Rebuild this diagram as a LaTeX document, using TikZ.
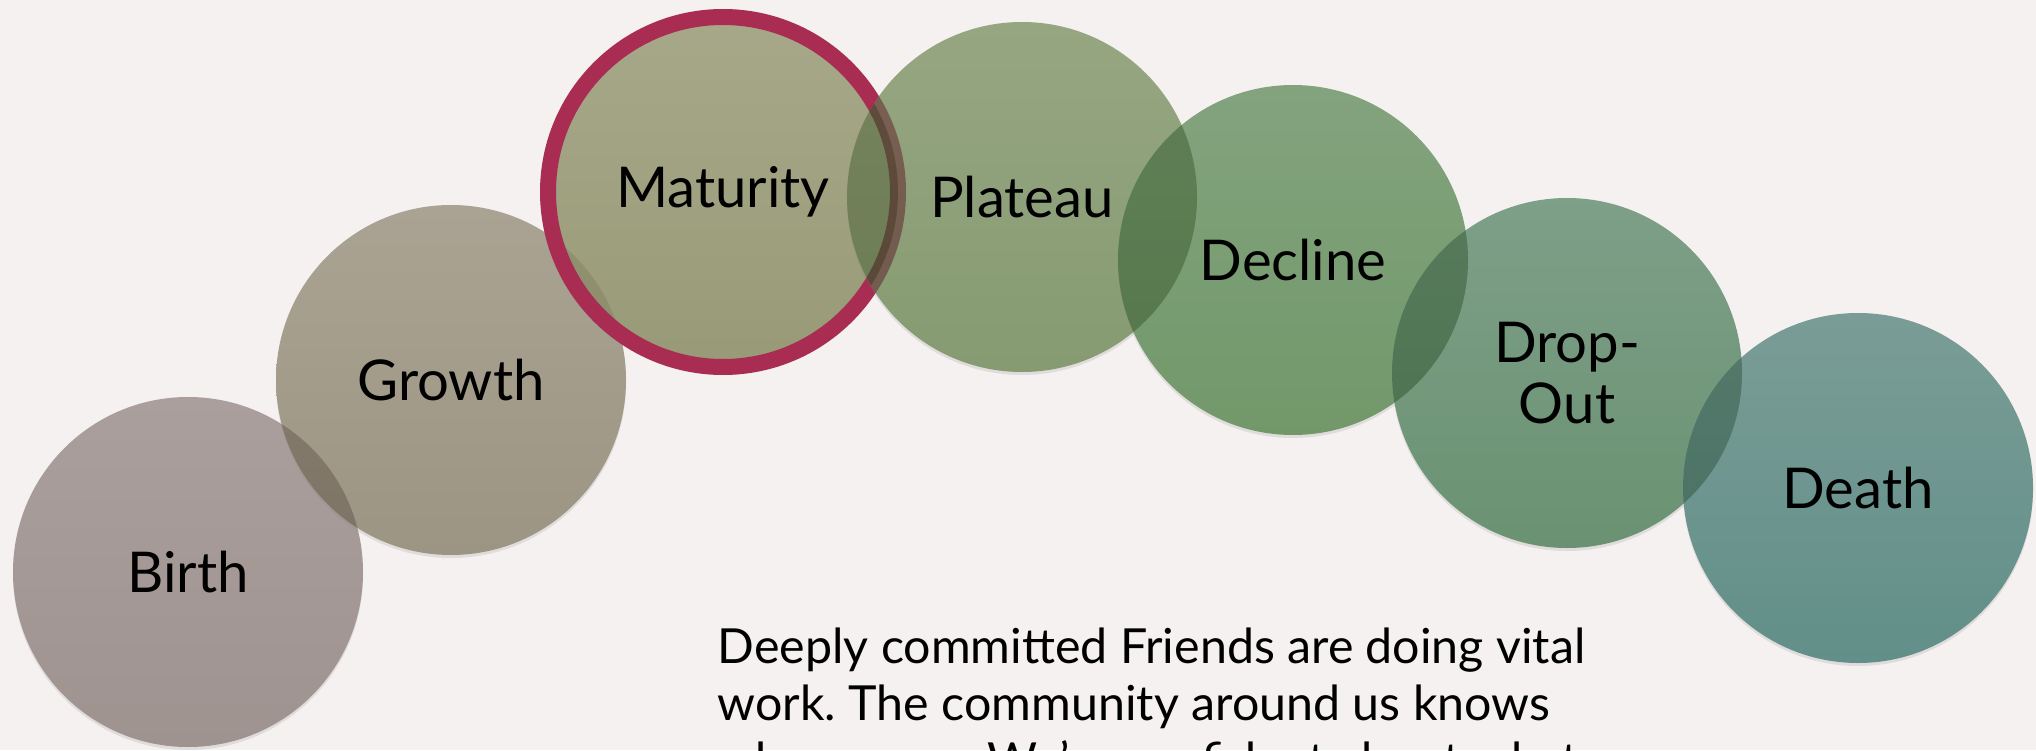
\documentclass[tikz,border=0pt]{standalone}
\usepackage{fontspec}
\setmainfont{Lato}
\usetikzlibrary{shadows}
\definecolor{pagebg}{HTML}{F4F1F0}
\definecolor{ringred}{HTML}{A92C53}
\definecolor{birthtop}{HTML}{AA9F9C}
\definecolor{birthbot}{HTML}{9F9390}
\definecolor{growthtop}{HTML}{AAA393}
\definecolor{growthbot}{HTML}{9D9583}
\definecolor{maturitytop}{HTML}{A6A889}
\definecolor{maturitybot}{HTML}{989A77}
\definecolor{plateautop}{HTML}{96A681}
\definecolor{plateaubot}{HTML}{869B72}
\definecolor{declinetop}{HTML}{83A37E}
\definecolor{declinebot}{HTML}{72986A}
\definecolor{dropouttop}{HTML}{7E9F88}
\definecolor{dropoutbot}{HTML}{6A9272}
\definecolor{deathtop}{HTML}{7A9C96}
\definecolor{deathbot}{HTML}{628F89}
\tikzset{
stage/.style={circle, minimum size=3.5cm, inner sep=0pt, align=center,
    font=\fontsize{16}{17.5}\selectfont,
    drop shadow={shadow xshift=0pt, shadow yshift=-0.03cm, opacity=0.18}},
note/.style={anchor=north west, inner sep=0pt, align=left,
    font=\frenchspacing\fontsize{13.75}{16.2}\selectfont},
}

\begin{document}
\begin{tikzpicture}
	\useasboundingbox (0,0) rectangle (20.36,7.5);
	\fill[pagebg] (0,0) rectangle (20.36,7.5);
	\clip (0,0) rectangle (20.36,7.5);
	% the stages, left to right
	\node[stage, top color=birthtop, bottom color=birthbot] (birth) at (1.88, 1.78) {Birth};
	\node[stage, top color=growthtop, bottom color=growthbot] (growth) at (4.51, 3.70) {Growth};
	\node[stage, top color=maturitytop, bottom color=maturitybot, draw=ringred, line width=0.16cm] (maturity) at (7.23, 5.58) {Maturity};
	\node[stage, top color=plateautop, bottom color=plateaubot] (plateau) at (10.22, 5.53) {Plateau};
	\node[stage, top color=declinetop, bottom color=declinebot] (decline) at (12.93, 4.90) {Decline};
	\node[stage, top color=dropouttop, bottom color=dropoutbot] (dropout) at (15.67, 3.77) {Drop-\\Out};
	\node[stage, top color=deathtop, bottom color=deathbot] (death) at (18.58, 2.62) {Death};
	% darker overlaps
	\foreach \a/\b/\r/\o in {birth/growth/1.75/0.5, growth/maturity/1.67/0.2, maturity/plateau/1.75/0.5, plateau/decline/1.75/0.55, decline/dropout/1.75/0.55, dropout/death/1.75/0.5}{
		\begin{scope}[blend mode=multiply]
			\clip (\b.center) circle (\r);
			\fill[\a bot, fill opacity=\o] (\a.center) circle (1.75);
		\end{scope}
	}
	\begin{scope}[blend mode=multiply]
		\clip (plateau.center) circle (1.75);
		\draw[ringred, line width=0.16cm, draw opacity=0.5] (maturity.center) circle (1.75);
	\end{scope}
	\node[note] (text) at (7.17, 1.23) {Deeply committed Friends are doing vital\\work. The community around us knows\\who we are. We're confident about what};
\end{tikzpicture}
\end{document}
